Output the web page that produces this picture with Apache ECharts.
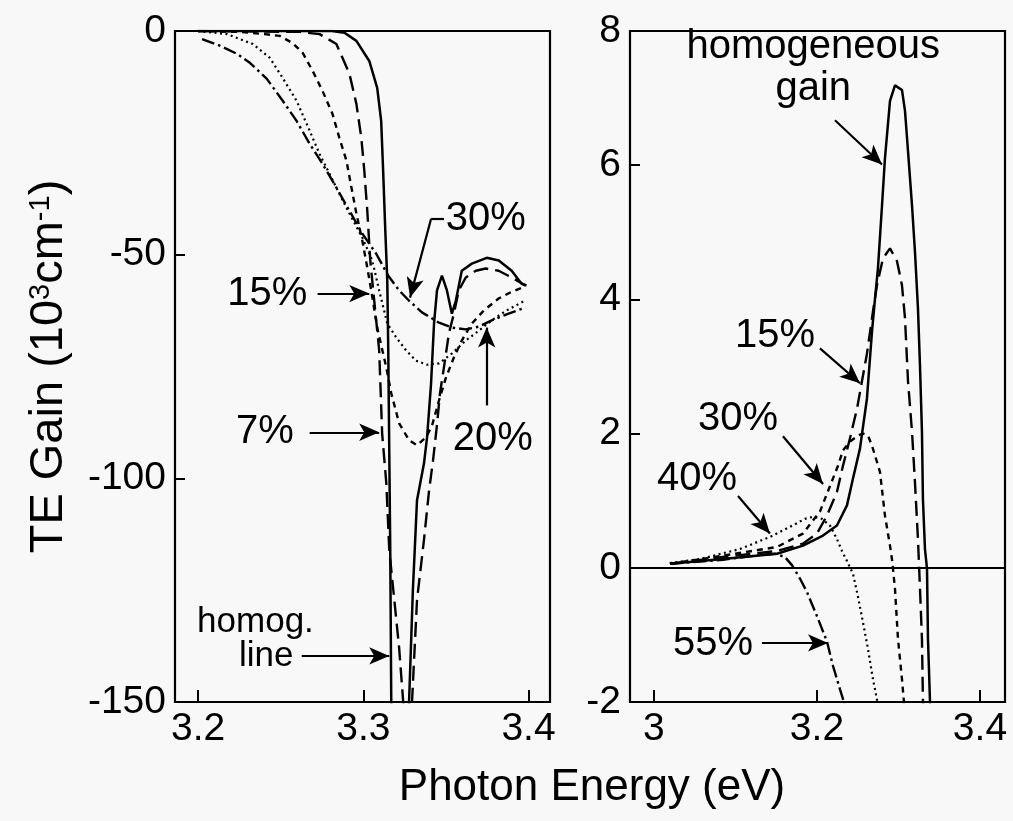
<!DOCTYPE html>
<html>
<head>
<meta charset="utf-8">
<script src="https://cdn.jsdelivr.net/npm/echarts@6/dist/echarts.min.js"></script>
<style>
html,body{margin:0;padding:0;background:#f8f8f8;}
#c{width:1013px;height:821px;}
</style>
</head>
<body>
<div id="c"></div>
<script>
// ---------- DATA (Photon energy eV, TE gain 10^3 cm^-1) ----------
// Left panel: absorption region
const leftHomog = [[3.2,0],[3.281,0],[3.2886,-0.4],[3.2958,-2.2],[3.3036,-6.7],[3.3084,-12.7],[3.3108,-20.1],[3.312,-31.3],[3.3133,-44.6],[3.3145,-55.8],[3.3151,-71.4],[3.3157,-93.8],[3.3163,-116],[3.3169,-149.6],[3.317,-160],[3.3275,-160],[3.3277,-149.8],[3.33,-125],[3.3325,-104.9],[3.3367,-96.7],[3.3386,-90.8],[3.341,-78.8],[3.3428,-65.4],[3.3446,-58],[3.3476,-54.7],[3.3506,-58],[3.3536,-63.2],[3.356,-60.3],[3.3596,-53.6],[3.3657,-52],[3.3747,-50.7],[3.382,-51.3],[3.3898,-53.6],[3.3958,-56.5],[3.3988,-56.9]];
const left7 = [[3.2,0],[3.2614,-0.2],[3.2735,-0.7],[3.2837,-2.9],[3.2916,-9.6],[3.2958,-16.3],[3.2988,-23.9],[3.3006,-31.3],[3.3024,-40.2],[3.3042,-51.3],[3.3066,-60.3],[3.3096,-71.4],[3.3114,-90],[3.3139,-101],[3.3157,-116],[3.3187,-127],[3.3217,-138],[3.3241,-149.8],[3.3253,-153],[3.3283,-153],[3.3295,-149.8],[3.3325,-127.2],[3.3367,-113.8],[3.3398,-102.7],[3.3422,-96],[3.3446,-88],[3.3464,-81],[3.3488,-75.2],[3.3518,-67.6],[3.3548,-63.2],[3.3578,-58],[3.362,-55.1],[3.3681,-53.6],[3.3741,-53.1],[3.3819,-53.6],[3.3898,-55.1],[3.3982,-56.9]];
const left15 = [[3.2,0],[3.2253,-0.2],[3.2404,-0.7],[3.2494,-1.1],[3.2572,-2.7],[3.2633,-4.9],[3.2693,-8.9],[3.2753,-13.4],[3.2813,-18.5],[3.2855,-23.9],[3.2898,-29],[3.2928,-35],[3.2958,-40.8],[3.2994,-46.9],[3.3024,-52.9],[3.3048,-58],[3.3084,-66.3],[3.3139,-75.2],[3.3169,-81],[3.3217,-87.7],[3.3277,-91.5],[3.3325,-92.6],[3.338,-90.8],[3.3416,-88.2],[3.3458,-82.6],[3.35,-77.5],[3.3548,-73],[3.3596,-69.2],[3.3657,-65.4],[3.3729,-62.5],[3.3819,-59.8],[3.3898,-58.3],[3.3982,-57.1]];
const left20 = [[3.2,0],[3.2175,-0.7],[3.2331,-2.9],[3.2434,-6],[3.2512,-10.5],[3.2596,-15.6],[3.2675,-22.3],[3.2735,-27.5],[3.2795,-31.9],[3.2855,-36.4],[3.2916,-40.8],[3.2994,-46.2],[3.3054,-51.3],[3.3096,-58],[3.3145,-65.4],[3.3199,-68.5],[3.3259,-71.4],[3.3319,-73.7],[3.3386,-74.6],[3.3458,-74.3],[3.3536,-72.1],[3.362,-69.2],[3.3699,-67],[3.3777,-64.7],[3.3861,-62.6],[3.3982,-60.2]];
const left30 = [[3.2024,-1.8],[3.2133,-3.3],[3.2235,-5.1],[3.2313,-7.1],[3.2416,-10.7],[3.2512,-15.6],[3.2596,-20.1],[3.2675,-25.2],[3.2753,-29.7],[3.2837,-35],[3.2916,-40.2],[3.2994,-45.3],[3.3078,-49.8],[3.3151,-54.7],[3.3217,-58],[3.3277,-60.3],[3.3355,-62.9],[3.3458,-65.2],[3.3536,-66.3],[3.362,-66.7],[3.3699,-66.1],[3.3777,-64.7],[3.3879,-63.2],[3.3982,-61.8]];

// Right panel: gain region
const rightHomog = [[3.0196,0.06],[3.0847,0.13],[3.1509,0.21],[3.1828,0.33],[3.2074,0.48],[3.2245,0.63],[3.2368,0.93],[3.2442,1.33],[3.2528,1.78],[3.2613,2.52],[3.2675,3.52],[3.2712,4.01],[3.2748,4.46],[3.2798,5.4],[3.2834,6.1],[3.2896,6.96],[3.2957,7.19],[3.3043,7.12],[3.308,6.81],[3.3117,6.21],[3.3166,5.4],[3.3202,4.72],[3.3239,3.87],[3.3264,3.01],[3.3288,2.03],[3.33,1.03],[3.3325,0.28],[3.335,-0.01],[3.3362,-1.06],[3.3387,-2.0],[3.3397,-2.4]];
const right15 = [[3.0196,0.06],[3.0847,0.16],[3.1509,0.25],[3.1828,0.36],[3.2,0.51],[3.2123,0.78],[3.2245,1.13],[3.2319,1.52],[3.2405,1.93],[3.2491,2.37],[3.2552,2.78],[3.2613,3.19],[3.2687,3.82],[3.2736,4.21],[3.281,4.61],[3.2896,4.76],[3.2982,4.57],[3.3043,4.21],[3.308,3.72],[3.3117,2.78],[3.3166,2.03],[3.3202,1.28],[3.3239,0.43],[3.3264,-0.31],[3.3288,-1.06],[3.33,-1.96],[3.3305,-2.4]];
const right30 = [[3.0196,0.06],[3.0847,0.18],[3.1509,0.31],[3.1828,0.51],[3.2037,0.84],[3.216,1.22],[3.2258,1.52],[3.2319,1.75],[3.2405,1.88],[3.2503,1.97],[3.2564,2.0],[3.2626,1.97],[3.2675,1.82],[3.2773,1.43],[3.2834,0.78],[3.2896,0.33],[3.292,0.13],[3.2957,-0.31],[3.2994,-1.06],[3.3043,-1.66],[3.3067,-2.0],[3.3085,-2.4]];
const right40 = [[3.0196,0.07],[3.0564,0.13],[3.1055,0.28],[3.1423,0.46],[3.1669,0.61],[3.1853,0.73],[3.1951,0.76],[3.2061,0.73],[3.216,0.63],[3.2245,0.43],[3.2307,0.25],[3.2368,0.1],[3.2442,-0.09],[3.2503,-0.43],[3.2564,-0.81],[3.2626,-1.21],[3.2687,-1.66],[3.2736,-1.96],[3.276,-2.4]];
const right55 = [[3.0196,0.06],[3.0847,0.12],[3.13,0.19],[3.1485,0.21],[3.1607,0.16],[3.1693,0.04],[3.1791,-0.16],[3.1877,-0.36],[3.2,-0.72],[3.2123,-1.1],[3.2196,-1.46],[3.2282,-1.81],[3.2331,-2.0],[3.236,-2.4]];

// tick values
const leftXTicks = [3.2, 3.3, 3.4];
const rightXTicks = [3.0, 3.2, 3.4];

// annotations (data coordinates)
const leftLabels = [
  {name:'30%', coord:[3.3741,-42.0]},
  {name:'15%', coord:[3.2418,-58.7]},
  {name:'7%', coord:[3.2404,-89.7]},
  {name:'20%', coord:[3.3783,-91.3]},
  {name:'homog.', coord:[3.2347,-132.3], size:35},
  {name:'line', coord:[3.2412,-139.8], size:35}
];
const leftArrows = [
  [[3.3488,-42.0],[3.341,-42.0],[3.3283,-59.6]],
  [[3.2723,-58.7],[3.3036,-58.7]],
  [[3.2675,-89.7],[3.3096,-89.7]],
  [[3.3747,-83.7],[3.3747,-66.3]],
  [[3.2627,-139.7],[3.3157,-139.7]]
];
const rightLabels = [
  {name:'homogeneous\ngain', coord:[3.1955,7.45]},
  {name:'15%', coord:[3.1485,3.45]},
  {name:'30%', coord:[3.1031,2.22]},
  {name:'40%', coord:[3.0528,1.33]},
  {name:'55%', coord:[3.0724,-1.13]}
];
const rightArrows = [
  [[3.2221,6.67],[3.2798,6.01]],
  [[3.2037,3.27],[3.2528,2.75]],
  [[3.1583,1.96],[3.2074,1.25]],
  [[3.1031,1.07],[3.1423,0.51]],
  [[3.1325,-1.12],[3.2135,-1.12]]
];

// ---------- CHART ----------
const FONT = '"Liberation Sans", Arial, Helvetica, sans-serif';
const chart = echarts.init(document.getElementById('c'), null, {renderer:'canvas'});

function arrowSegments(list){
  const out = [];
  list.forEach(pts => {
    for (let i = 0; i < pts.length - 1; i++) {
      const last = i === pts.length - 2;
      out.push([
        {coord: pts[i], symbol:'none'},
        {coord: pts[i+1], symbol: last ? 'arrow' : 'none', symbolSize: [13, 20]}
      ]);
    }
  });
  return out;
}
function textMarks(list){
  return list.map(l => ({name:l.name, coord:l.coord, symbol:'rect', symbolSize:1,
    itemStyle:{color:'rgba(0,0,0,0)'},
    label:{show:true, position:'inside', formatter:'{b}', color:'#000',
      fontFamily:FONT, fontSize:l.size || 40, lineHeight:42}}));
}

const styles = {
  solid:   {type:'solid', width:2.5},
  long:    {type:[15,7], width:2.4},
  short:   {type:[6,5], width:2.4},
  dot:     {type:[2,3.5], width:2.2},
  dashdot: {type:[13,4,2.5,4], width:2.4}
};
function mk(data, st, gi, extra){
  return Object.assign({
    type:'line', data:data, xAxisIndex:gi, yAxisIndex:gi,
    showSymbol:false, symbol:'none', smooth:false, clip:true, silent:true,
    animation:false,
    lineStyle:Object.assign({color:'#000'}, st)
  }, extra || {});
}
const axisLabelStyle = {color:'#000', fontFamily:FONT, fontSize:39};

function xAxisCfg(gi, min, max, ticks){
  return {type:'value', gridIndex:gi, min:min, max:max,
    axisLine:{show:false, onZero:false}, splitLine:{show:false},
    axisTick:{show:true, inside:true, length:12, customValues:ticks, lineStyle:{color:'#000', width:2}},
    axisLabel:Object.assign({show:true, margin:8, customValues:ticks,
      formatter:v=>String(Number(Number(v).toFixed(1)))}, axisLabelStyle)};
}

const option = {
  backgroundColor:'#f8f8f8',
  animation:false,
  grid:[
    {left:175, top:31, width:375, height:671, show:true, borderColor:'#000', borderWidth:2.2, backgroundColor:'transparent'},
    {left:630, top:31, width:375, height:671, show:true, borderColor:'#000', borderWidth:2.2, backgroundColor:'transparent'}
  ],
  xAxis:[
    xAxisCfg(0, 3.186, 3.413, leftXTicks),
    xAxisCfg(1, 2.9706, 3.4307, rightXTicks)
  ],
  yAxis:[
    {type:'value', gridIndex:0, min:-150, max:0, interval:50,
      axisLine:{show:false, onZero:false}, splitLine:{show:false},
      axisTick:{show:true, inside:true, length:10, lineStyle:{color:'#000', width:2}},
      axisLabel:Object.assign({margin:9}, axisLabelStyle),
      name:'TE Gain (10{s|3}cm{s|-1})', nameLocation:'middle', nameRotate:90, nameGap:102,
      nameTextStyle:{color:'#000', fontFamily:FONT, fontSize:47,
        rich:{s:{fontSize:29, fontFamily:FONT, color:'#000', verticalAlign:'top', lineHeight:22}}}},
    {type:'value', gridIndex:1, min:-2, max:8, interval:2,
      axisLine:{show:false, onZero:false}, splitLine:{show:false},
      axisTick:{show:true, inside:true, length:10, lineStyle:{color:'#000', width:2}},
      axisLabel:Object.assign({margin:9}, axisLabelStyle)}
  ],
  graphic:[
    {type:'text', x:592, y:788, silent:true,
      style:{text:'Photon Energy (eV)', fill:'#000', font:'44px ' + FONT, textAlign:'center', textVerticalAlign:'middle'}}
  ],
  series:[
    mk(leftHomog, styles.solid, 0, {
      markLine:{silent:true, animation:false, symbol:['none','none'], label:{show:false},
        lineStyle:{color:'#000', type:'solid', width:2.2}, emphasis:{disabled:true},
        data:arrowSegments(leftArrows)},
      markPoint:{silent:true, animation:false, data:textMarks(leftLabels)}
    }),
    mk(left7, styles.long, 0),
    mk(left15, styles.short, 0),
    mk(left20, styles.dot, 0),
    mk(left30, styles.dashdot, 0),
    mk(rightHomog, styles.solid, 1, {
      markLine:{silent:true, animation:false, symbol:['none','none'], label:{show:false},
        lineStyle:{color:'#000', type:'solid', width:2.2}, emphasis:{disabled:true},
        data:[[{coord:[2.9706,0], symbol:'none'},{coord:[3.4307,0], symbol:'none'}]].concat(arrowSegments(rightArrows))},
      markPoint:{silent:true, animation:false, data:textMarks(rightLabels)}
    }),
    mk(right15, styles.long, 1),
    mk(right30, styles.short, 1),
    mk(right40, styles.dot, 1),
    mk(right55, styles.dashdot, 1)
  ]
};
chart.setOption(option);
</script>
</body>
</html>
